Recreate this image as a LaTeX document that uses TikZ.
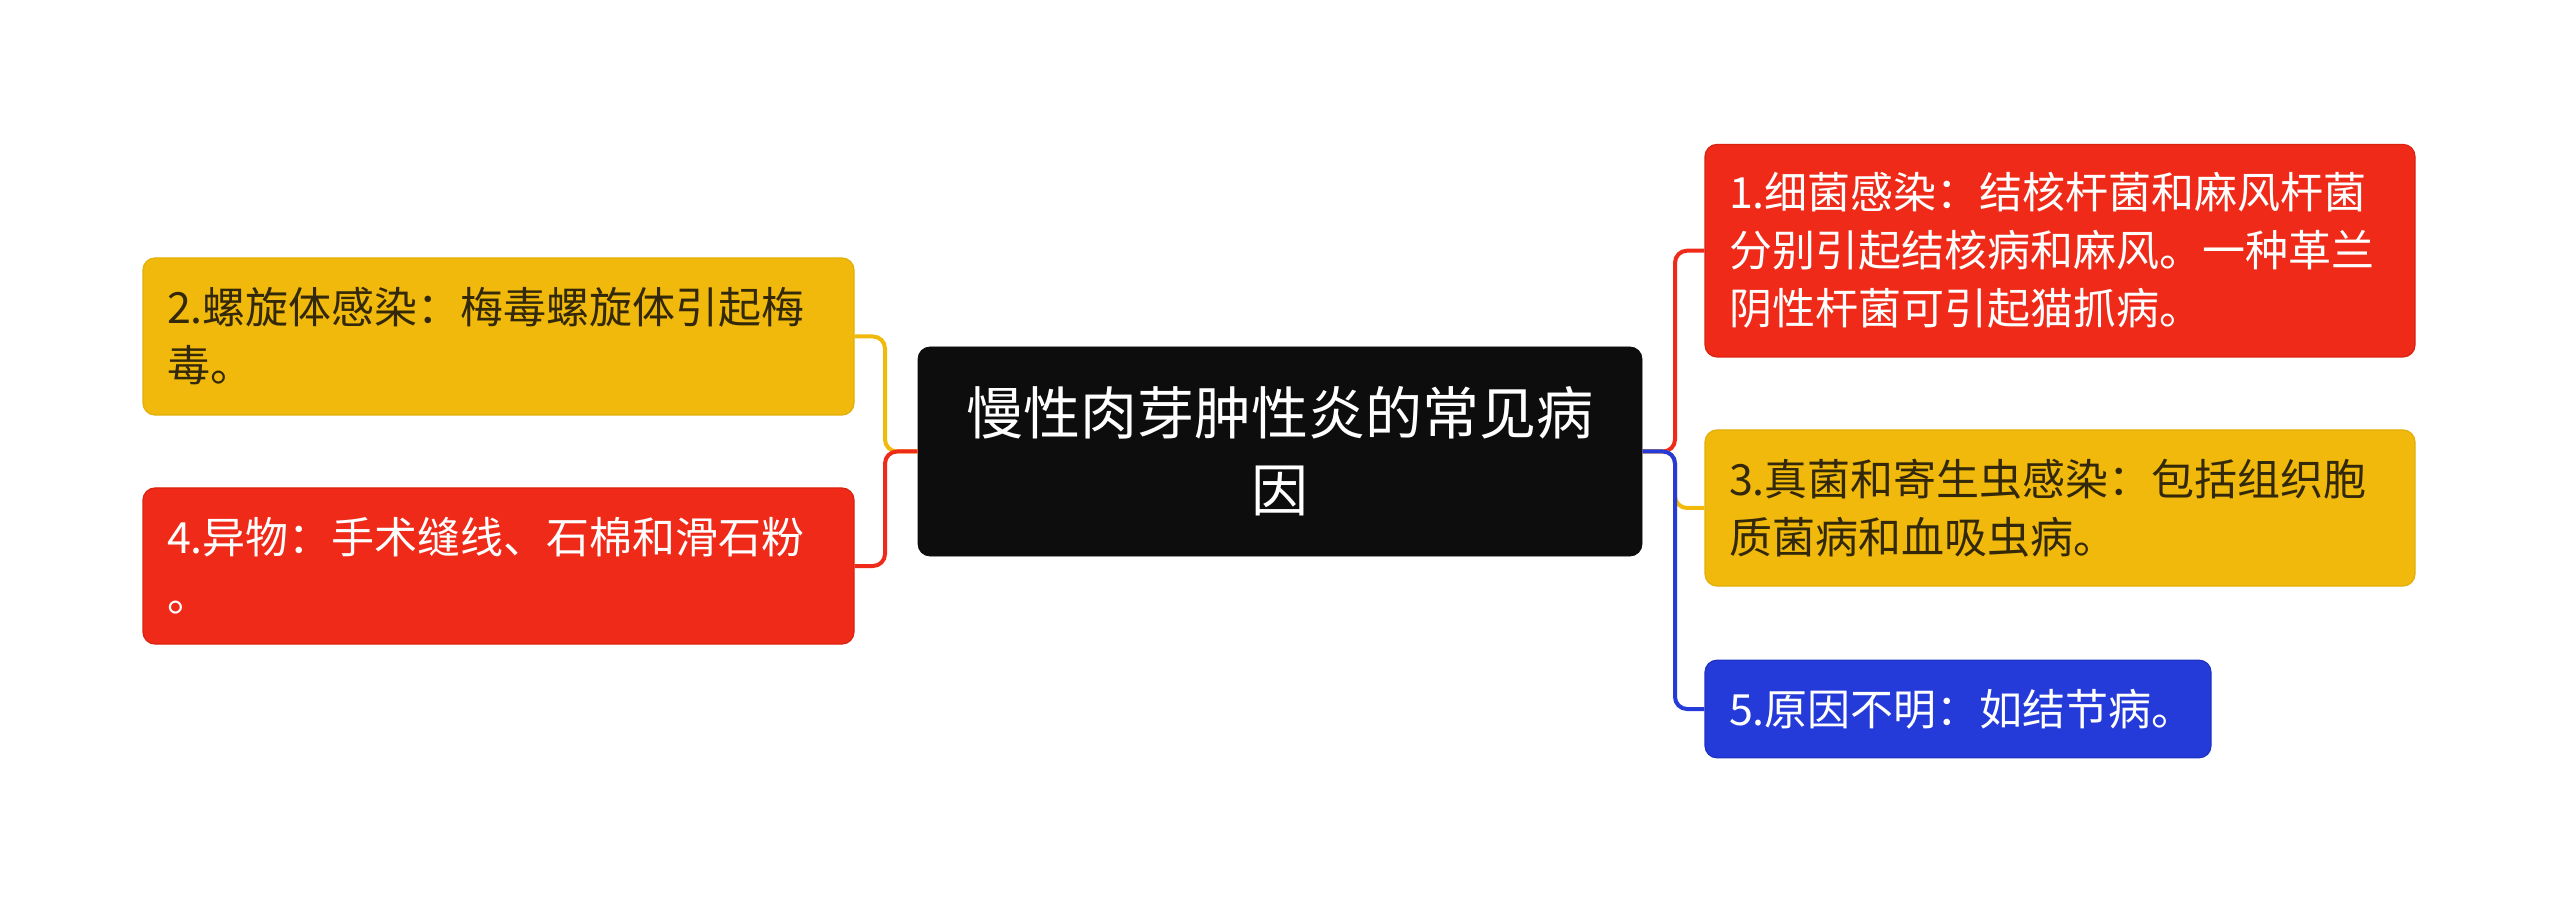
\documentclass[tikz,border=0pt]{standalone}
\usepackage{fontspec}
\newfontfamily\cjk{Noto Sans CJK SC}
\definecolor{cred}{HTML}{EF2A19}
\definecolor{credb}{HTML}{D9230F}
\definecolor{cyel}{HTML}{F0B90B}
\definecolor{cyelb}{HTML}{E2AE08}
\definecolor{cblue}{HTML}{253BD9}
\definecolor{cblueb}{HTML}{1E32C4}
\definecolor{cblack}{HTML}{0D0D0D}
\definecolor{ytext}{HTML}{33290A}
\tikzset{
  box/.style={rounded corners=6pt, line width=0.6pt, inner xsep=12pt, inner ysep=0pt, align=left, anchor=center, font=\cjk\fontsize{21.5pt}{29pt}\selectfont},
  redbox/.style={box, fill=cred, draw=credb, text=white},
  yelbox/.style={box, fill=cyel, draw=cyelb, text=ytext},
  bluebox/.style={box, fill=cblue, draw=cblueb, text=white},
  centerbox/.style={rounded corners=6pt, fill=cblack, draw=cblack, text=white, align=center, inner sep=0pt, font=\cjk\fontsize{28.5pt}{38.5pt}\selectfont},
  conn/.style={line width=2pt, rounded corners=6pt}
}
\begin{document}
\begin{tikzpicture}[x=0.5pt, y=-0.5pt]
\useasboundingbox (0,0) rectangle (2560,903);
\fill[white] (0,0) rectangle (2560,903);
\node[centerbox, minimum width=362pt, minimum height=104.5pt] (c) at (1280,451.5) {慢性肉芽肿性炎的常见病\\因};
\node[yelbox, minimum width=355.5pt, minimum height=78.5pt, text width=331.5pt] (n2) at (498.5,336.5) {2.螺旋体感染：梅毒螺旋体引起梅\\毒。};
\node[redbox, minimum width=355.5pt, minimum height=78pt, text width=331.5pt] (n4) at (498.5,566) {4.异物：手术缝线、石棉和滑石粉\\。};
\node[redbox, minimum width=355pt, minimum height=106.25pt, text width=331pt] (n1) at (2060,250.7) {1.细菌感染：结核杆菌和麻风杆菌\\分别引起结核病和麻风。一种革兰\\阴性杆菌可引起猫抓病。};
\node[yelbox, minimum width=355pt, minimum height=78pt, text width=331pt] (n3) at (2060,508) {3.真菌和寄生虫感染：包括组织胞\\质菌病和血吸虫病。};
\node[bluebox, minimum width=253pt, minimum height=48.8pt, text width=229pt] (n5) at (1958,709) {5.原因不明：如结节病。};
\coordinate (jl) at (885,451.5);
\coordinate (jr) at (1675,451.5);
\draw[conn, cyel] (c.west) -- (jl) |- (n2.east);
\draw[conn, cred] (c.west) -- (jl) |- (n4.east);
\draw[conn, cred] (c.east) -- (jr) |- (n1.west);
\draw[conn, cyel] (c.east) -- (jr) |- (n3.west);
\draw[conn, cblue] (c.east) -- (jr) |- (n5.west);
\end{tikzpicture}
\end{document}
